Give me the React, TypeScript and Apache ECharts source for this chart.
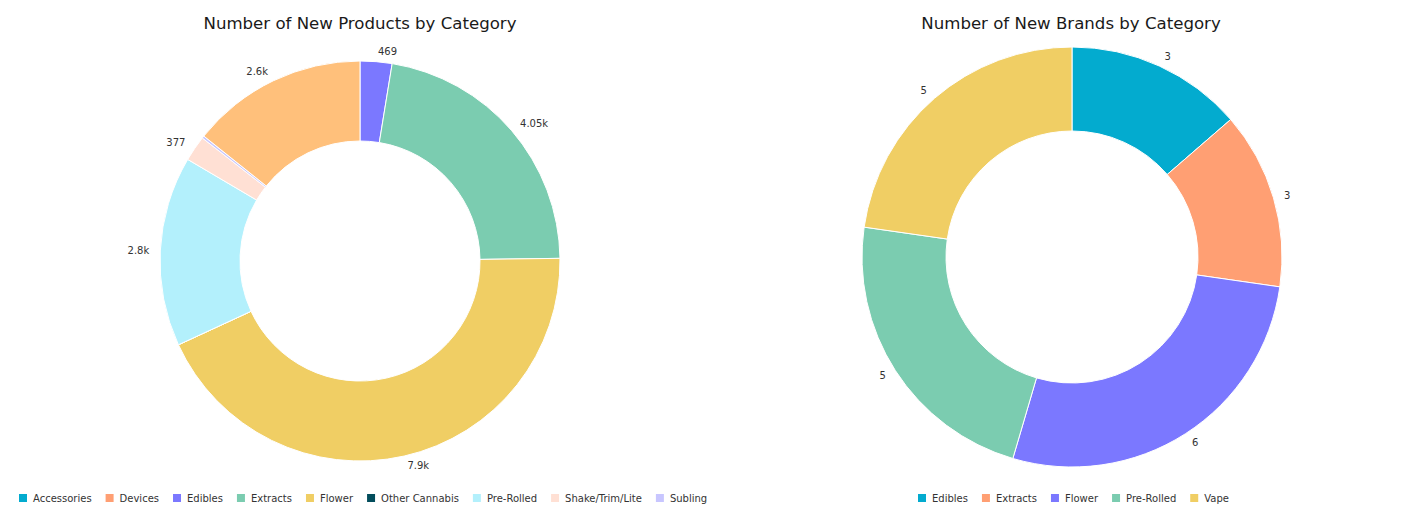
import React, { useEffect, useRef } from "react";
import * as echarts from "echarts";

const palette = ["#03abcf", "#ff9f73", "#7b78ff", "#7bccb0", "#f0ce64", "#034d5c", "#b3f0fc", "#ffe0d4", "#c8c6ff", "#ffc07b"];

const productCategories = ["Accessories", "Devices", "Edibles", "Extracts", "Flower", "Other Cannabis", "Pre-Rolled", "Shake/Trim/Lite", "Subling", "Vape"];
const productValues = [0, 0, 469, 4050, 7900, 0, 2800, 377, 35, 2600];
const productLegend = ["Accessories", "Devices", "Edibles", "Extracts", "Flower", "Other Cannabis", "Pre-Rolled", "Shake/Trim/Lite", "Subling"];

const brandCategories = ["Edibles", "Extracts", "Flower", "Pre-Rolled", "Vape"];
const brandValues = [3, 3, 6, 5, 5];

const FONT = "DejaVu Sans, Verdana, sans-serif";

function fmt(v: number): string {
  if (v >= 1000) {
    const k = Math.round(v / 10) / 100;
    return `${k}k`;
  }
  return String(v);
}

function buildOption(
  title: string,
  titleX: number,
  cats: string[],
  vals: number[],
  legendData: string[],
  legendLeft: number,
  center: [number, number],
  radius: [number, number]
) {
  const total = vals.reduce((a, b) => a + b, 0);
  const data = cats.map((name, i) => ({
    name,
    value: vals[i],
    label: { show: vals[i] / total >= 0.01 },
  }));
  return {
    animation: false,
    color: palette,
    title: {
      text: title,
      left: titleX,
      top: 7,
      padding: 0,
      textAlign: "center",
      textStyle: { fontFamily: FONT, fontSize: 16.6, fontWeight: "normal", color: "#1a1a1a" },
    },
    legend: {
      data: legendData,
      left: legendLeft,
      top: 484,
      width: 760,
      padding: 0,
      itemWidth: 10,
      itemHeight: 10,
      itemGap: 12,
      icon: "rect",
      textStyle: { fontFamily: FONT, fontSize: 10, color: "#333" },
    },
    series: [
      {
        type: "pie",
        center,
        radius,
        startAngle: 90,
        clockwise: true,
        avoidLabelOverlap: false,
        data,
        itemStyle: { borderColor: "#fff", borderWidth: 1 },
        label: {
          show: true,
          position: "outside",
          formatter: (p: any) => fmt(p.value),
          fontFamily: FONT,
          fontSize: 10,
          color: "#333",
          distanceToLabelLine: 1,
        },
        labelLine: { show: false, length: 10, length2: 0 },
        emphasis: { disabled: true },
      },
    ],
  };
}

function Chart({ option, width, height }: { option: any; width: number; height: number }) {
  const ref = useRef<HTMLDivElement>(null);
  useEffect(() => {
    if (!ref.current) return;
    const c = echarts.init(ref.current, null, { renderer: "svg" });
    c.setOption(option);
    return () => c.dispose();
  }, [option]);
  return <div ref={ref} style={{ width, height }} />;
}

const leftOption = buildOption(
  "Number of New Products by Category",
  352,
  productCategories,
  productValues,
  productLegend,
  9,
  [352, 253],
  [120, 200]
);
const rightOption = buildOption(
  "Number of New Brands by Category",
  359,
  brandCategories,
  brandValues,
  brandCategories,
  204,
  [360, 249],
  [126, 210]
);

export default function App() {
  return (
    <div style={{ display: "flex", width: 1409 }}>
      <Chart option={leftOption} width={704} height={509} />
      <Chart option={rightOption} width={705} height={509} />
    </div>
  );
}
